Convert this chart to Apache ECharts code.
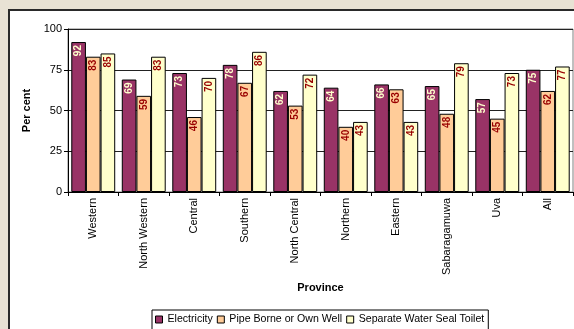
<!DOCTYPE html>
<html>
<head>
<meta charset="utf-8">
<script src="https://cdn.jsdelivr.net/npm/echarts@6/dist/echarts.min.js"></script>
<style>
  html, body { margin: 0; padding: 0; overflow: hidden; background: #e8e2d4; }
  #chart {
    position: absolute;
    left: 8px;
    top: 9px;
    width: 620px;
    height: 340px;
    background: #fff;
    border-top: 2px solid #2a2a2a;
    border-left: 2px solid #2a2a2a;
  }
</style>
</head>
<body>
<div id="chart"></div>
<script>
const provinces = ["Western", "North Western", "Central", "Southern", "North Central",
  "Northern", "Eastern", "Sabaragamuwa", "Uva", "All"]
const electricity = [92, 69, 73, 78, 62, 64, 66, 65, 57, 75]
const pipeBorne = [83, 59, 46, 67, 53, 40, 63, 48, 45, 62]
const waterSeal = [85, 83, 70, 86, 72, 43, 43, 79, 73, 77]
const yTicks = [0, 25, 50, 75, 100]

const font = "'Liberation Sans', Arial, sans-serif"

const chart = echarts.init(document.getElementById("chart"), null, { renderer: "canvas" })

const barLabel = (color) => ({
  show: true,
  position: "insideTop",
  distance: 3,
  rotate: 90,
  align: "right",
  verticalAlign: "middle",
  color: color,
  fontFamily: font,
  fontSize: 10,
  fontWeight: "bold"
})

const makeSeries = (name, data, fill, labelColor) => ({
  name: name,
  type: "bar",
  data: data,
  barGap: "0%",
  barCategoryGap: "13%",
  itemStyle: { color: fill, borderColor: "#000", borderWidth: 1 },
  label: barLabel(labelColor),
  emphasis: { disabled: true }
})

chart.setOption({
  animation: false,
  textStyle: { fontFamily: font },
  grid: {
    left: 58,
    top: 18,
    width: 505,
    height: 163,
    show: true,
    borderColor: "#808080",
    borderWidth: 1,
    backgroundColor: "#fff"
  },
  legend: {
    left: 142,
    top: 299,
    padding: [4, 4, 10, 3],
    itemGap: 4,
    itemWidth: 7,
    itemHeight: 7,
    icon: "rect",
    borderColor: "#000",
    borderWidth: 1,
    textStyle: { fontFamily: font, fontSize: 10.6, color: "#000" },
    itemStyle: { borderColor: "#000", borderWidth: 1 },
    data: ["Electricity", "Pipe Borne or Own Well", "Separate Water Seal Toilet"]
  },
  xAxis: {
    type: "category",
    data: provinces,
    name: "Province",
    nameLocation: "middle",
    nameGap: 90,
    nameTextStyle: { fontFamily: font, fontSize: 11, fontWeight: "bold", color: "#000" },
    axisLine: { lineStyle: { color: "#000", width: 1 } },
    axisTick: { show: true, length: 4, lineStyle: { color: "#000" } },
    axisLabel: { rotate: 90, margin: 6, fontFamily: font, fontSize: 11, color: "#000" },
    splitLine: { show: false }
  },
  yAxis: {
    type: "value",
    min: 0,
    max: 100,
    interval: 25,
    name: "Per cent",
    nameLocation: "middle",
    nameGap: 31,
    nameTextStyle: { fontFamily: font, fontSize: 11, fontWeight: "bold", color: "#000" },
    axisLine: { show: true, lineStyle: { color: "#000", width: 1 } },
    axisTick: { show: true, length: 4, lineStyle: { color: "#000" } },
    axisLabel: {
      margin: 6,
      fontFamily: font,
      fontSize: 11,
      color: "#000",
      formatter: (v) => (yTicks.includes(v) ? String(v) : "")
    },
    splitLine: { show: true, lineStyle: { color: "#222", width: 1 } }
  },
  series: [
    makeSeries("Electricity", electricity, "#993366", "#ffffcc"),
    makeSeries("Pipe Borne or Own Well", pipeBorne, "#ffcc99", "#990000"),
    makeSeries("Separate Water Seal Toilet", waterSeal, "#ffffcc", "#990000")
  ]
})
</script>
</body>
</html>
